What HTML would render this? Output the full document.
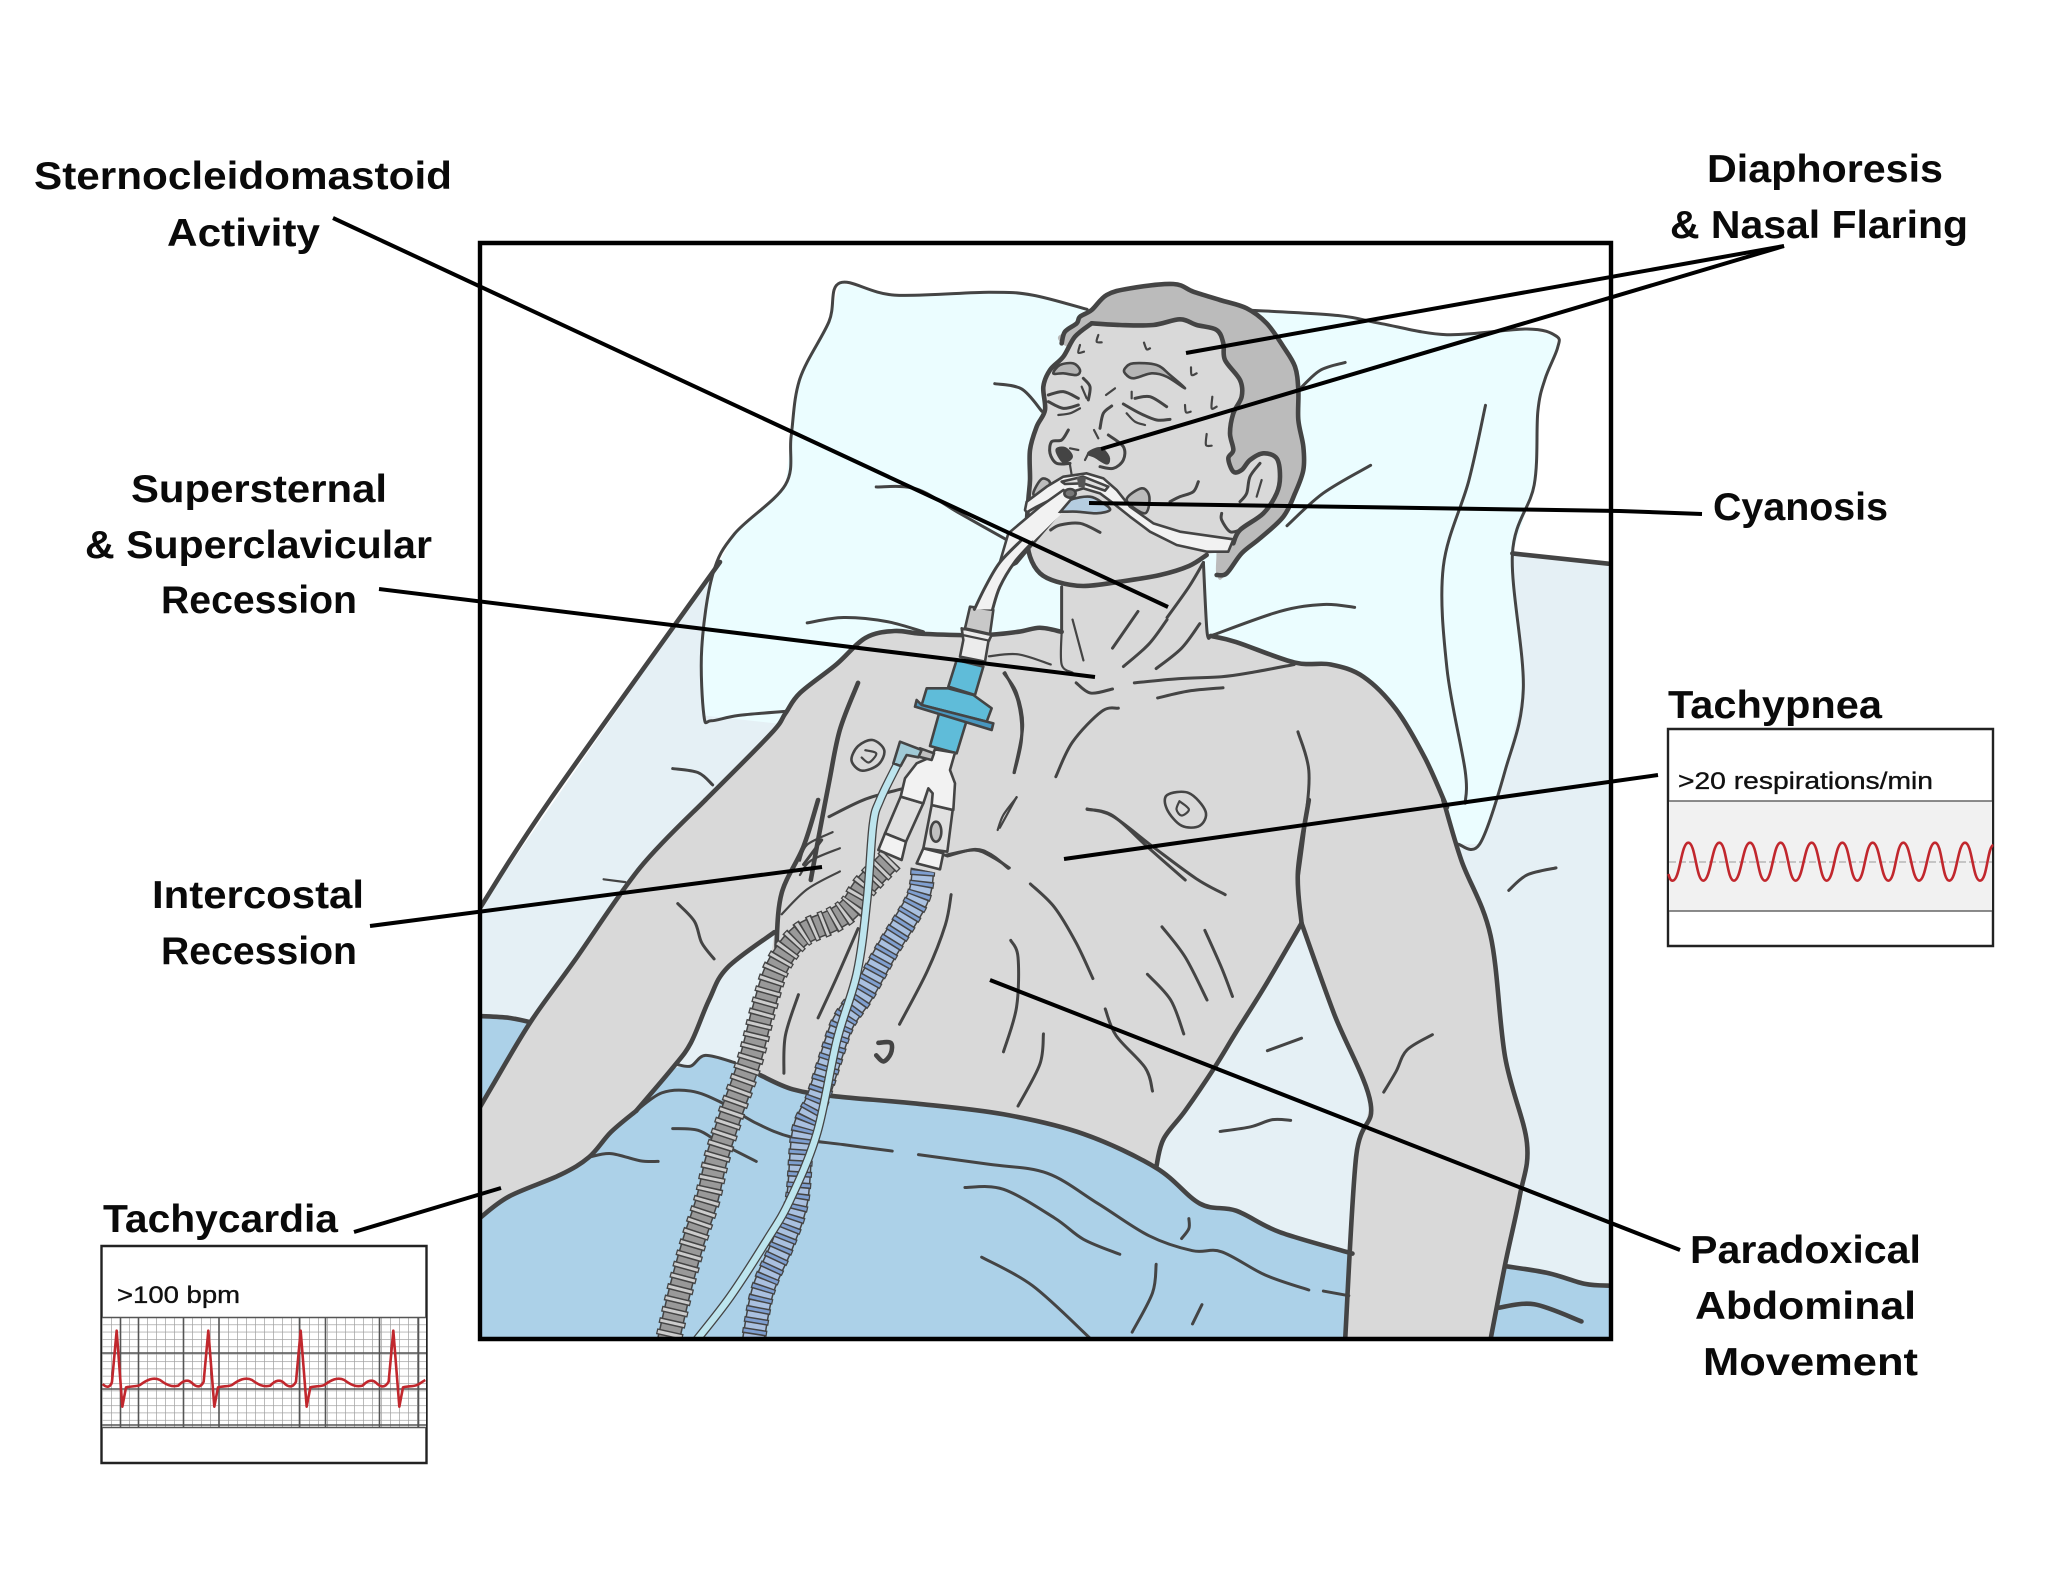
<!DOCTYPE html>
<html><head><meta charset="utf-8"><style>
html,body{margin:0;padding:0;background:#fff}
svg{display:block}
polyline,polygon,path,line,rect,ellipse{vector-effect:non-scaling-stroke}
.a{fill:none;stroke:#444;stroke-width:3;stroke-linecap:round;stroke-linejoin:round}
.t{fill:none;stroke:#444;stroke-width:4.6;stroke-linecap:round;stroke-linejoin:round}
.f{fill:none;stroke:#444;stroke-width:2.2;stroke-linecap:round;stroke-linejoin:round}
.c{stroke:#000;stroke-width:4;stroke-linecap:butt;fill:none}
.l{font:bold 39px "Liberation Sans",sans-serif;fill:#0a0a0a}
.s{font:24px "Liberation Sans",sans-serif;fill:#111;stroke:#111;stroke-width:.35}
.n{stroke:none}
.o{stroke:#444;stroke-width:2.6;stroke-linejoin:round}
</style></head><body>
<svg xmlns="http://www.w3.org/2000/svg" width="2048" height="1582" viewBox="0 0 2048 1582">
<defs>
<clipPath id="fr"><rect x="480" y="243" width="1131" height="1096"/></clipPath>
<clipPath id="eb"><rect x="102" y="1317" width="324" height="110"/></clipPath>
<pattern id="gr" width="9" height="7.35" patternUnits="userSpaceOnUse" x="102" y="1317">
<rect width="9" height="7.35" fill="#fff"/>
<path d="M0 0V7.35" stroke="#777" stroke-width="1"/>
<path d="M0 0H9" stroke="#a0a0a0" stroke-width="1.4"/>
</pattern>
</defs>
<rect width="2048" height="1582" fill="#fff"/>
<g clip-path="url(#fr)">
<polygon class="n" fill="#e5f0f5" points="480,908 720,562 1512,553 1611,564 1611,1339 480,1339"/>
<!-- pillow + back layers -->
<g transform="translate(480 240) scale(.72704 .40816)">
<polygon class="n" fill="#ebfdff" points="495,105 570,135 700,128 760,135 835,170 1060,172 1180,185 1240,205 1330,232 1440,218 1480,235 1482,265 1465,340 1455,420 1450,600 1420,770 1435,1100 1410,1300 1375,1480 1345,1480 1000,1300 308,1165 305,1000 320,820 350,720 420,600 428,480 440,340 480,200"/>
<polyline class="a" points="420,1155 355,1165 318,1178 308,1165 305,1000 320,820 350,720 420,600 428,480 440,340 480,200 495,105 570,135 700,128 760,135 835,170"/>
<polyline class="a" points="1060,172 1180,185 1240,205 1330,232 1440,218 1480,235 1482,265 1465,340 1455,420 1450,600 1420,770 1435,1100 1410,1300 1375,1480 1345,1480"/>
<polyline class="a" points="1383,405 1360,590 1325,800 1330,1050 1355,1300 1355,1380"/>
<polyline class="a" points="708,352 745,365 773,420"/>
<polyline class="a" points="1190,300 1155,320 1125,370"/>
<polyline class="a" points="1225,552 1160,620 1110,700"/>
<polyline class="a" points="545,605 600,610 660,670 730,740"/>
<polyline class="a" points="450,938 500,925 560,935 610,960"/>
<polyline class="a" points="1005,970 1100,910 1160,893 1203,900"/>
<polyline class="a" points="265,1295 300,1305 320,1335"/>
<polyline class="t" points="1420,768 1552,793"/>
</g>
<polyline class="t" points="720,562 550,800 480,908"/>
<g transform="translate(480 800) scale(.72704 .35714)">
<polygon class="n" fill="#acd1e8" points="0,610 40,610 75,625 70,900 0,1300"/>
<polyline class="t" points="0,605 40,610 75,625"/>
</g>
<!-- body upper fill -->
<g transform="translate(480 240) scale(.72704 .40816)">
<polygon class="n" fill="#d9d9d9" points="800,850 800,960 770,950 740,960 690,968 610,965 570,958 530,975 490,1040 440,1110 420,1160 400,1210 310,1372 265,1465 215,1568 1360,1568 1330,1390 1300,1270 1260,1150 1215,1070 1170,1040 1120,1035 1040,985 1005,970 1000,960 995,790 800,790"/>
</g>
<!-- body lower, blanket, arm -->
<g transform="translate(480 800) scale(.72704 .35714)">
<polygon class="n" fill="#d9d9d9" points="310,0 220,190 130,450 70,620 20,790 0,860 0,1300 250,1000 215,870 265,750 290,680 315,560 340,470 405,370 400,440 391,588 371,728 375,760 385,770 430,810 490,830 600,850 720,880 830,935 930,1030 940,950 970,870 1010,750 1040,650 1080,520 1130,345 1140,0"/>
<polygon class="n" fill="#acd1e8" points="0,1170 40,1110 110,1050 150,1000 180,930 215,870 265,750 290,745 310,715 350,735 385,770 430,810 490,830 600,850 720,880 830,935 930,1030 990,1130 1040,1150 1100,1210 1200,1270 1200,1510 0,1510"/>
<polygon class="n" fill="#acd1e8" points="1410,1305 1470,1325 1520,1355 1555,1360 1555,1510 1390,1510"/>
<polygon class="n" fill="#d9d9d9" points="1140,0 1130,345 1175,600 1225,850 1205,1000 1190,1510 1390,1510 1410,1300 1430,1110 1440,960 1410,720 1390,380 1350,170 1325,0"/>
<polyline class="t" points="310,0 220,190 130,450 70,620 20,790 0,860"/>
<polyline class="t" points="405,370 340,470 315,560 290,680 265,750 215,870"/>
<polyline class="t" points="465,0 445,130 415,260 408,400 410,440"/>
<polyline class="t" points="0,1170 40,1110 110,1050 150,1000 180,930 215,870"/>
<polyline class="a" points="270,740 290,745 310,715 350,735"/>
<polyline class="t" points="385,770 430,810 490,830 600,850 720,880 830,935 930,1030 990,1130 1040,1150 1100,1210 1200,1270"/>
<polyline class="t" points="1130,345 1080,520 1040,650 1010,750 970,870 940,950 930,1030"/>
<polyline class="t" points="1130,345 1175,600 1225,850 1205,1000 1190,1510"/>
<polyline class="t" points="1325,0 1350,170 1390,380 1410,720 1440,960 1430,1110 1410,1300 1390,1510"/>
<polyline class="t" points="1140,0 1125,200 1130,345"/>
<polyline class="a" points="835,25 870,45 925,130 985,220 1025,265"/>
<polyline class="f" points="485,90 450,125 440,170"/>
<polyline class="f" points="495,135 455,170 440,210"/>
<polyline class="f" points="495,200 450,250 415,320"/>
<polyline class="a" points="640,155 680,140 705,160 728,190"/>
<polyline class="a" points="757,235 790,300 820,400 843,500"/>
<polyline class="a" points="648,265 640,350 615,480 577,628"/>
<polyline class="a" points="730,393 740,440 738,580 720,705"/>
<polyline class="a" points="775,655 770,740 740,857"/>
<polyline class="a" points="938,355 970,440 1000,560"/>
<polyline class="a" points="997,365 1020,470 1035,550"/>
<polyline class="a" points="918,488 950,560 968,655"/>
<polyline class="a" points="860,585 875,660 915,750 925,815"/>
<polyline class="a" points="272,290 295,340 305,400 322,445"/>
<polyline class="f" points="170,222 200,230"/>
<polyline class="a" points="1415,253 1440,210 1480,190"/>
<polyline class="a" points="1083,702 1130,667"/>
<polyline class="a" points="1018,928 1060,915 1090,895 1115,897"/>
<polyline class="a" points="1310,657 1275,700 1260,760 1243,818"/>
<polyline class="t" points="548,680 565,680 565,710 555,732 545,715"/>
<polyline class="a" points="438,545 420,660 418,765"/>
<polyline class="a" points="520,360 490,500 465,610"/>
<polyline class="a" points="215,870 250,820 290,815 330,845 380,905 430,945 500,965 567,983"/>
<polyline class="a" points="603,993 700,1020 780,1045 850,1130 920,1220 980,1262 1020,1265 1080,1330 1140,1372"/>
<polyline class="a" points="1160,1375 1195,1388"/>
<polyline class="a" points="265,920 300,925 330,960 380,1012"/>
<polyline class="a" points="150,1000 180,990 220,1010 245,1012"/>
<polyline class="a" points="667,1085 720,1090 790,1170 830,1230 880,1272"/>
<polyline class="a" points="690,1280 760,1360 838,1505"/>
<polyline class="a" points="930,1300 925,1380 897,1490"/>
<polyline class="a" points="993,1413 980,1467"/>
<polyline class="a" points="975,1172 975,1200 965,1228"/>
<polyline class="t" points="1400,1422 1450,1412 1515,1460"/>
<polyline class="t" points="1410,1305 1470,1325 1520,1355 1555,1360"/>
</g>
<!-- body upper strokes -->
<g transform="translate(480 240) scale(.72704 .40816)">
<polyline class="a" points="800,850 800,960"/>
<polyline class="t" points="800,960 770,950 740,960 690,968 610,965 570,958 530,975 490,1040 440,1110 420,1160 400,1210 310,1372"/>
<polyline class="a" points="995,790 1000,960 1005,970"/>
<polyline class="t" points="1005,970 1040,985 1120,1035 1170,1040 1215,1070 1260,1150 1300,1270 1330,1390"/>
<polyline class="t" points="520,1085 495,1200 480,1330 465,1470 455,1568"/>
<polyline class="a" points="722,1060 740,1130 745,1220 735,1305"/>
<polyline class="a" points="878,1147 855,1155 815,1230 792,1315"/>
<polyline class="a" points="1125,1205 1140,1300 1135,1430 1125,1568"/>
<polyline class="f" points="738,1365 715,1440"/>
<polyline class="a" points="835,1395 870,1410 920,1490 970,1568"/>
<polyline class="a" points="480,1413 530,1370 580,1345"/>
<polyline class="a" points="470,1470 445,1530"/>
<polygon class="o sm" fill="#d9d9d9" points="540,1225 556,1250 548,1285 525,1300 511,1275 520,1240"/>
<polyline class="f" points="530,1250 545,1258 535,1280 525,1268"/>
<polygon class="o sm" fill="#d9d9d9" points="945,1360 975,1355 998,1400 990,1435 965,1435 945,1395"/>
<polyline class="f" points="962,1375 975,1395 965,1410 958,1395 962,1375"/>
<polyline class="a" points="900,1085 960,1075 1020,1070 1060,1060 1120,1040"/>
<polyline class="a" points="932,1122 975,1105 1022,1097"/>
<polyline class="a" points="820,1085 840,1110 870,1100"/>
<polyline class="f" points="700,1020 740,1015 785,1040"/>
<polyline class="f" points="815,930 830,1030"/>
<polyline class="a" points="905,910 870,1000"/>
<polyline class="a" points="945,930 920,990 885,1045"/>
<polyline class="a" points="990,940 965,1000 930,1050"/>
<polyline class="f" points="800,960 800,1040 815,1060"/>
<polyline class="a" points="995,790 975,850 945,925"/>
</g>
<!-- tubes -->
<g fill="none" stroke-linejoin="round">
<polyline stroke="#444" stroke-width="23" points="891,859 865,886 851,907 833,920 800,936 777,967 763,1010 750,1060 730,1117 716,1161 707,1200 693,1243 680,1290 668,1342"/>
<polyline stroke="#999" stroke-width="20" points="891,859 865,886 851,907 833,920 800,936 777,967 763,1010 750,1060 730,1117 716,1161 707,1200 693,1243 680,1290 668,1342"/>
<polyline stroke="#444" stroke-width="27" stroke-dasharray="6 5.5" points="891,859 865,886 851,907 833,920 800,936 777,967 763,1010 750,1060 730,1117 716,1161 707,1200 693,1243 680,1290 668,1342"/>
<polyline stroke="#ccc" stroke-width="24.5" stroke-dasharray="3 8.5" stroke-dashoffset="-1.5" points="891,859 865,886 851,907 833,920 800,936 777,967 763,1010 750,1060 730,1117 716,1161 707,1200 693,1243 680,1290 668,1342"/>
<polyline stroke="#444" stroke-width="23" points="923,870 917,900 887,950 863,993 843,1023 830,1060 817,1100 803,1133 797,1200 783,1243 763,1290 753,1342"/>
<polyline stroke="#a9c0e0" stroke-width="20" points="923,870 917,900 887,950 863,993 843,1023 830,1060 817,1100 803,1133 797,1200 783,1243 763,1290 753,1342"/>
<polyline stroke="#444" stroke-width="25" stroke-dasharray="6 5" points="923,870 917,900 887,950 863,993 843,1023 830,1060 817,1100 803,1133 797,1200 783,1243 763,1290 753,1342"/>
<polyline stroke="#7f9fd0" stroke-width="22.5" stroke-dasharray="3 8" stroke-dashoffset="-1.5" points="923,870 917,900 887,950 863,993 843,1023 830,1060 817,1100 803,1133 797,1200 783,1243 763,1290 753,1342"/>
<polyline stroke="#444" stroke-width="9" points="897,765 880,800 873,825 867,900 857,973 837,1040 817,1133 790,1200 767,1240 730,1297 695,1342"/>
<polyline stroke="#bde5ee" stroke-width="6.4" points="897,765 880,800 873,825 867,900 857,973 837,1040 817,1133 790,1200 767,1240 730,1297 695,1342"/>
</g>
<!-- connector -->
<g transform="translate(860 620) scale(.33333)">
<polygon class="o" fill="#c8c8c8" points="330,-40 400,-30 390,42 315,25"/>
<polygon class="o" fill="#ececec" points="305,25 395,45 385,65 375,125 300,110 310,60"/>
<polyline class="f" points="308,45 388,62"/>
<polygon class="o" fill="#5fbcd9" points="290,120 370,140 345,225 265,200"/>
<polygon class="o" fill="#5fbcd9" points="240,270 322,295 290,400 210,378"/>
<polygon class="o" fill="#5fbcd9" points="200,205 265,205 340,225 395,265 380,305 185,255"/>
<polygon class="o" fill="#4897c0" points="170,240 185,255 380,305 400,310 395,330 165,260"/>
<polygon class="o" fill="#e0e0e0" points="122,530 190,550 138,665 75,640"/>
<polygon class="o" fill="#e0e0e0" points="215,555 278,570 262,695 190,685"/>
<polygon class="o" fill="#f2f2f2" points="75,640 138,665 125,720 55,690"/>
<polygon class="o" fill="#f2f2f2" points="190,685 250,700 240,748 170,730"/>
<polygon class="o" fill="#f2f2f2" points="225,388 285,398 270,450 285,490 280,570 215,555 218,520 205,505 190,550 122,530 135,475 170,430 215,410"/>
<ellipse class="o" fill="#c0c0c0" cx="228" cy="635" rx="16" ry="30"/>
<polygon class="o" fill="#c0c0c0" points="180,385 222,400 215,420 175,410"/>
<polygon class="o" fill="#a0cad6" points="120,365 185,390 175,412 140,405 122,438 100,430"/>
<polyline class="a" points="262,708 345,688 395,705 445,745"/>
<polyline class="a" points="432,160 470,220 488,320 462,458"/>
<polyline class="f" points="470,532 430,585 413,630"/>
</g>
<!-- head -->
<g transform="translate(1020 280) scale(.33333)">
<polygon class="n sm" fill="#bbb" points="125,190 135,155 170,130 180,110 215,90 260,45 330,25 460,12 520,35 600,60 680,85 740,130 790,200 825,260 835,330 835,420 850,500 850,570 825,640 790,710 720,775 665,820 620,880 590,885 560,700 300,300"/>
<polygon class="n sm" fill="#d9d9d9" points="215,130 300,135 400,135 480,118 530,135 590,150 610,190 615,240 660,300 665,350 640,400 630,460 640,510 625,535 640,575 665,570 690,540 730,520 770,535 780,590 770,640 730,700 660,750 640,790 600,815 560,825 507,858 420,885 300,905 190,918 110,905 60,880 30,830 20,760 25,660 30,600 30,510 50,440 75,390 70,320 90,270 130,230 165,170"/>
<polyline class="t" points="125,190 135,155 170,130 180,110 215,90 260,45 330,25 460,12 520,35 600,60 680,85 740,130 790,200 825,260 835,330 835,420 850,500 850,570 825,640 790,710 720,775 665,820 620,880 590,885"/>
<polyline class="t" points="215,130 300,135 400,135 480,118 530,135 590,150 610,190 615,240 660,300 665,350 640,400 630,460 640,510 625,535 640,575 665,570 690,540 730,520 770,535 780,590 770,640 730,700 660,750 640,790"/>
<polyline class="t" points="215,130 165,170 130,230 90,270 70,320 75,390 50,440 30,510 30,600 25,660 20,760 30,830 60,880 110,905 190,918 300,905 420,885 507,858 560,825"/>
<polyline class="a" points="720,550 690,590 680,640 660,665"/>
<polyline class="f" points="725,600 710,650"/>
<polyline class="a" points="605,700 605,720 630,755 660,750"/>
<polygon class="o sm" fill="#bbb" points="40,640 65,597 90,610 60,650"/>
<polygon class="o sm" fill="#bbb" points="320,660 365,625 388,650 375,700"/>
<polygon class="o sm" fill="#b5b5b5" points="315,265 340,250 410,255 450,285 495,325 440,290 395,280 340,295 315,280"/>
<polygon class="o sm" fill="#b5b5b5" points="100,280 120,255 160,250 180,270 170,285 130,280"/>
<polyline class="a" points="345,355 390,350 440,380"/>
<polyline class="a" points="310,372 360,400 410,420 450,418"/>
<polyline class="f" points="320,400 345,425 375,435"/>
<polyline class="f" points="335,335 335,355"/>
<polyline class="a" points="85,345 130,335 175,355"/>
<polyline class="a" points="85,365 130,385 175,375"/>
<polyline class="f" points="115,405 150,400 180,385"/>
<polyline class="a" points="190,295 210,320 205,360"/>
<polyline class="f" points="185,320 200,355"/>
<polyline class="f" points="285,325 258,345"/>
<polyline class="a" points="275,378 250,400 240,445"/>
<polyline class="a" points="145,450 125,480 95,485 90,520 110,550 150,550"/>
<polyline class="f" points="150,505 175,510"/>
<polyline class="f" points="222,450 235,475"/>
<polyline class="a" points="265,465 310,500 310,540 280,565 240,560"/>
<polygon class="o sm" fill="#444" points="110,510 135,505 155,530 130,545"/>
<polygon class="o sm" fill="#444" points="205,520 240,505 265,530 260,550 225,530"/>
<polyline class="f" points="150,555 155,585"/>
<polyline class="f" points="195,540 205,520"/>
<polyline class="a" points="535,605 520,635 480,650 450,665"/>
<polyline class="a" points="92,750 120,735 180,730 240,757"/>
<polygon class="o sm" fill="#b5cde0" points="110,690 150,660 210,650 250,670 270,690 230,700 170,695 120,695"/>
<polygon class="o" fill="#f2f2f2" points="15,690 20,665 80,620 130,590 200,580 250,595 290,630 330,680 400,730 480,755 640,778 625,815 560,815 470,795 390,755 330,710 280,670 240,640 190,625 140,640 90,660 50,680 20,697"/>
<polygon class="o" fill="#ddd" points="125,605 190,590 265,620 255,632 190,610 135,612"/>
<polygon class="n" fill="#555" points="170,590 198,592 194,622 176,622"/>
<polygon class="o" fill="#f2f2f2" points="130,630 160,650 100,720 40,790 -10,850 -70,880 -35,760 60,680"/>
<ellipse class="o" fill="#777" cx="150" cy="640" rx="17" ry="13"/>
<polyline class="f" points="235,165 230,185 245,187"/>
<polyline class="f" points="180,195 175,218 192,215"/>
<polyline class="f" points="372,188 380,208 390,205"/>
<polyline class="f" points="513,262 515,285 530,280"/>
<polyline class="f" points="495,375 498,397 512,395"/>
<polyline class="f" points="577,350 575,385 590,380"/>
<polyline class="f" points="560,462 558,495 575,497"/>
</g>
<!-- breathing tube -->
<g transform="translate(480 240) scale(.72704 .40816)">
<polygon class="n" fill="#f2f2f2" points="770,660 800,670 760,740 735,790 715,850 705,905 680,905 695,850 715,790 745,735"/>
<polyline class="a" points="745,735 715,790 695,850 680,905"/>
<polyline class="a" points="760,740 735,790 715,850 705,905"/>
</g>
</g>
<!-- frame -->
<rect x="480" y="243" width="1131" height="1096" fill="none" stroke="#000" stroke-width="4.4"/>
<!-- callouts -->
<line class="c" x1="333" y1="218" x2="1168" y2="607"/>
<line class="c" x1="379" y1="589" x2="1095" y2="677"/>
<line class="c" x1="370" y1="926" x2="822" y2="867"/>
<line class="c" x1="354" y1="1232" x2="501" y2="1188"/>
<line class="c" x1="1784" y1="246" x2="1186" y2="353"/>
<line class="c" x1="1784" y1="246" x2="1101" y2="449"/>
<polyline class="c" points="1089,503 1620,511 1702,514"/>
<line class="c" x1="1658" y1="775" x2="1064" y2="859"/>
<line class="c" x1="1680" y1="1250" x2="990" y2="980"/>
<!-- labels -->
<g transform="translate(0 -1)">
<text class="l" x="34" y="190" textLength="418" lengthAdjust="spacingAndGlyphs">Sternocleidomastoid</text>
<text class="l" x="167" y="247" textLength="153" lengthAdjust="spacingAndGlyphs">Activity</text>
<text class="l" x="1707" y="183" textLength="236" lengthAdjust="spacingAndGlyphs">Diaphoresis</text>
<text class="l" x="1670" y="239" textLength="298" lengthAdjust="spacingAndGlyphs">&amp; Nasal Flaring</text>
<text class="l" x="131" y="503" textLength="256" lengthAdjust="spacingAndGlyphs">Supersternal</text>
<text class="l" x="85" y="559" textLength="347" lengthAdjust="spacingAndGlyphs">&amp; Superclavicular</text>
<text class="l" x="161" y="614" textLength="196" lengthAdjust="spacingAndGlyphs">Recession</text>
<text class="l" x="1713" y="521" textLength="175" lengthAdjust="spacingAndGlyphs">Cyanosis</text>
<text class="l" x="1668" y="719" textLength="214" lengthAdjust="spacingAndGlyphs">Tachypnea</text>
<text class="l" x="152" y="909" textLength="212" lengthAdjust="spacingAndGlyphs">Intercostal</text>
<text class="l" x="161" y="965" textLength="196" lengthAdjust="spacingAndGlyphs">Recession</text>
<text class="l" x="103" y="1233" textLength="235" lengthAdjust="spacingAndGlyphs">Tachycardia</text>
<text class="l" x="1690" y="1264" textLength="231" lengthAdjust="spacingAndGlyphs">Paradoxical</text>
<text class="l" x="1695" y="1320" textLength="221" lengthAdjust="spacingAndGlyphs">Abdominal</text>
<text class="l" x="1703" y="1376" textLength="215" lengthAdjust="spacingAndGlyphs">Movement</text>
</g>
<!-- ECG box -->
<rect x="101.5" y="1246" width="325" height="217" fill="#fff" stroke="#222" stroke-width="2.4"/>
<text class="s" x="117" y="1303" textLength="123" lengthAdjust="spacingAndGlyphs">&gt;100 bpm</text>
<rect x="102" y="1317" width="324" height="110" fill="url(#gr)"/>
<g stroke="#555" stroke-width="1.6" fill="none">
<path d="M102 1317.5H426M102 1353H426M102 1389H426M102 1425H426M102 1427.5H426"/>
<path d="M120.5 1317V1427M138.5 1317V1427M183.5 1317V1427M219 1317V1427M299.5 1317V1427M325.5 1317V1427M379.5 1317V1427M418.5 1317V1427"/>
</g>
<g clip-path="url(#eb)">
<g transform="translate(90 1180) scale(.33333)" fill="none" stroke="#c1272d" stroke-width="2.6" stroke-linejoin="round">
<path d="M38,612C50,625 62,622 66,605L80,452L97,680L108,622C125,618 140,620 150,615C170,600 190,590 210,600C230,615 245,622 265,617C280,600 295,598 305,608C318,622 332,625 341,605L355,452L373,680L384,622C400,618 415,620 426,615C446,600 466,590 486,600C506,615 521,622 541,617C556,600 571,598 581,608C594,622 608,625 618,605L632,452L650,680L661,622C677,618 692,620 703,615C723,600 743,590 763,600C783,615 798,622 818,617C833,600 848,598 858,608C871,622 885,625 896,605L910,452L928,680L939,622C955,618 970,620 981,615C990,612 998,604 1006,600"/>
</g>
</g>
<!-- Resp box -->
<rect x="1668" y="729" width="325" height="217" fill="#fff" stroke="#222" stroke-width="2.4"/>
<rect x="1669" y="801" width="323" height="110" fill="#f1f1f1"/>
<path d="M1669 801H1992M1669 911H1992" stroke="#666" stroke-width="1.4"/>
<path d="M1669 862H1992" stroke="#999" stroke-width="1" stroke-dasharray="7 3"/>
<text class="s" x="1678" y="789" textLength="255" lengthAdjust="spacingAndGlyphs">&gt;20 respirations/min</text>
<g transform="translate(1650 670) scale(.33333)">
<path fill="none" stroke="#c1272d" stroke-width="2.6" d="M55,612C60,628 62,632 68,632C90,632 93,518 115,518S138,632 160,632S186,518 208,518S230,632 252,632S278,518 300,518S323,632 345,632S370,518 392,518S415,632 437,632S463,518 485,518S508,632 530,632S555,518 577,518S600,632 622,632S646,518 668,518S693,632 715,632S738,518 760,518S785,632 807,632S833,518 855,518S876,632 898,632S923,518 945,518S968,632 990,632S1012,530 1030,525"/>
</g>
</svg>
<script>
(function(){
var N='http://www.w3.org/2000/svg';
function pts(e){return e.getAttribute('points').trim().split(/\s+/).map(function(p){return p.split(',').map(Number)})}
function swap(e,d){var q=document.createElementNS(N,'path');q.setAttribute('d',d);
for(var k=0;k<e.attributes.length;k++){var t=e.attributes[k];if(t.name!=='points')q.setAttribute(t.name,t.value);}
e.parentNode.replaceChild(q,e);}
function seg(a,b,c,f){return 'C'+(b[0]+(c[0]-a[0])/6)+' '+(b[1]+(c[1]-a[1])/6)+' '+(c[0]-(f[0]-b[0])/6)+' '+(c[1]-(f[1]-b[1])/6)+' '+c[0]+' '+c[1]}
var L=document.querySelectorAll('polyline');
for(var i=0;i<L.length;i++){var e=L[i],s=pts(e);
if(s.length<3||e.getAttribute('class')==='c')continue;
var d='M'+s[0][0]+' '+s[0][1];
for(var j=0;j<s.length-1;j++)d+=seg(s[j-1]||s[j],s[j],s[j+1],s[j+2]||s[j+1]);
swap(e,d);}
var P=document.querySelectorAll('polygon.sm');
for(var i=0;i<P.length;i++){var e=P[i],s=pts(e),n=s.length;
var d='M'+s[0][0]+' '+s[0][1];
for(var j=0;j<n;j++)d+=seg(s[(j+n-1)%n],s[j],s[(j+1)%n],s[(j+2)%n]);
swap(e,d+'Z');}
})();
</script>
</body></html>
